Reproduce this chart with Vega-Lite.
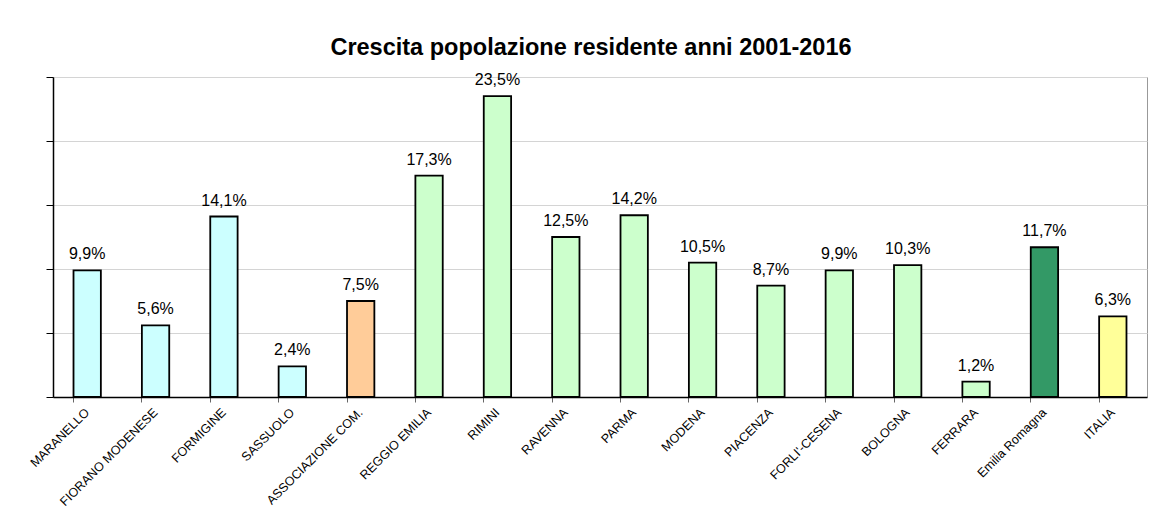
{
  "$schema": "https://vega.github.io/schema/vega-lite/v6.json",
  "width": 1094,
  "height": 320,
  "autosize": {"type": "none"},
  "padding": {"left": 53, "top": 77, "right": 16, "bottom": 112},
  "background": "white",
  "title": {
    "text": "Crescita popolazione residente anni 2001-2016",
    "font": "Liberation Sans",
    "fontSize": 23.5,
    "fontWeight": "bold",
    "color": "black",
    "anchor": "middle",
    "dx": -9,
    "offset": 13
  },
  "config": {
    "locale": {"number": {"decimal": ",", "thousands": ".", "grouping": [3], "currency": ["€", ""]}},
    "view": {"stroke": "#999999", "strokeWidth": 1},
    "font": "Liberation Sans"
  },
  "data": {
    "values": [
      {"area": "MARANELLO", "crescita": 0.099, "gruppo": "Comune"},
      {"area": "FIORANO MODENESE", "crescita": 0.056, "gruppo": "Comune"},
      {"area": "FORMIGINE", "crescita": 0.141, "gruppo": "Comune"},
      {"area": "SASSUOLO", "crescita": 0.024, "gruppo": "Comune"},
      {"area": "ASSOCIAZIONE COM.", "crescita": 0.075, "gruppo": "Associazione"},
      {"area": "REGGIO EMILIA", "crescita": 0.173, "gruppo": "Provincia"},
      {"area": "RIMINI", "crescita": 0.235, "gruppo": "Provincia"},
      {"area": "RAVENNA", "crescita": 0.125, "gruppo": "Provincia"},
      {"area": "PARMA", "crescita": 0.142, "gruppo": "Provincia"},
      {"area": "MODENA", "crescita": 0.105, "gruppo": "Provincia"},
      {"area": "PIACENZA", "crescita": 0.087, "gruppo": "Provincia"},
      {"area": "FORLI'-CESENA", "crescita": 0.099, "gruppo": "Provincia"},
      {"area": "BOLOGNA", "crescita": 0.103, "gruppo": "Provincia"},
      {"area": "FERRARA", "crescita": 0.012, "gruppo": "Provincia"},
      {"area": "Emilia Romagna", "crescita": 0.117, "gruppo": "Regione"},
      {"area": "ITALIA", "crescita": 0.063, "gruppo": "Italia"}
    ]
  },
  "encoding": {
    "x": {
      "field": "area",
      "type": "nominal",
      "sort": null,
      "scale": {"paddingInner": 0.6, "paddingOuter": 0.3},
      "axis": {
        "title": null,
        "labelAngle": -45,
        "labelAlign": "right",
        "labelBaseline": "middle",
        "labelFontSize": 12.5,
        "labelColor": "black",
        "labelPadding": 8,
        "bandPosition": 0,
        "tickSize": 5,
        "tickColor": "#666666",
        "domainColor": "black",
        "domainWidth": 1.5,
        "labelOverlap": false
      }
    },
    "y": {
      "field": "crescita",
      "type": "quantitative",
      "scale": {"domain": [0, 0.25], "nice": false},
      "axis": {
        "title": null,
        "labels": false,
        "values": [0, 0.05, 0.1, 0.15, 0.2, 0.25],
        "tickSize": 7,
        "tickColor": "black",
        "domainColor": "black",
        "domainWidth": 1.5,
        "gridColor": "#d4d4d4",
        "grid": true
      }
    }
  },
  "layer": [
    {
      "mark": {"type": "bar", "stroke": "black", "strokeWidth": 1.8},
      "encoding": {
        "color": {
          "field": "gruppo",
          "type": "nominal",
          "legend": null,
          "scale": {
            "domain": ["Comune", "Associazione", "Provincia", "Regione", "Italia"],
            "range": ["#CCFFFF", "#FFCC99", "#CCFFCC", "#339966", "#FFFF99"]
          }
        }
      }
    },
    {
      "mark": {"type": "text", "baseline": "alphabetic", "dy": -11, "fontSize": 16, "color": "black"},
      "encoding": {
        "text": {"field": "crescita", "type": "quantitative", "format": ".1%"}
      }
    }
  ]
}
